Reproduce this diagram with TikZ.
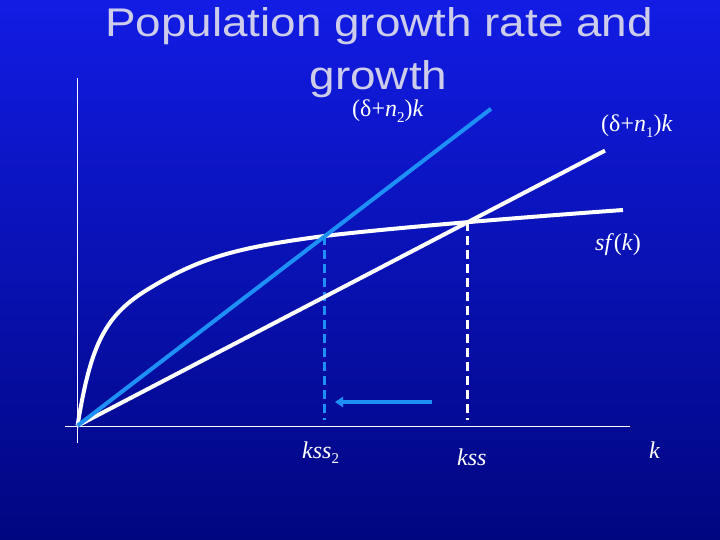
\documentclass[tikz,border=0pt]{standalone}
\usepackage{fontspec}
\setmainfont{Liberation Serif}
\newfontfamily\titlefont[FakeStretch=1.146]{Liberation Sans}
\usetikzlibrary{arrows.meta}
\definecolor{bgtop}{RGB}{18,28,228}
\definecolor{bgmid}{RGB}{6,16,200}
\definecolor{bgbot}{RGB}{0,6,128}
\definecolor{lblue}{RGB}{30,144,245}
\definecolor{titlecol}{RGB}{205,205,235}
\newcommand\sbt[1]{\raisebox{-0.22em}{\fontsize{15}{15}\selectfont #1}}
\tikzset{
  titletext/.style={font=\titlefont\fontsize{40}{40}\selectfont, text=titlecol, inner sep=0pt, anchor=base},
  lab/.style={text=white, font=\fontsize{24}{24}\selectfont, inner sep=0pt, anchor=base west},
  axisline/.style={draw=white, line width=1.5pt},
  whitecurve/.style={draw=white, line width=4pt},
  bluecurve/.style={draw=lblue, line width=4pt},
  wdash/.style={draw=white, line width=3.5pt, dash pattern=on 9pt off 5pt},
  bdash/.style={draw=lblue, line width=3.5pt, dash pattern=on 9pt off 5pt},
}
\begin{document}
\begin{tikzpicture}[x=1pt,y=-1pt]
\useasboundingbox (0pt,0pt) rectangle (720pt,-540pt);
\shade[top color=bgtop, middle color=bgmid, bottom color=bgbot] (0pt,0pt) rectangle (720pt,-540pt);

% title
\node[titletext] (t1) at (379,37) {Population growth rate and};
\node[titletext] (t2) at (378.5,90) {growth};

% coordinates
\coordinate (O) at (77.5,425.7);
\coordinate (ytop) at (77.5,78);
\coordinate (ybot) at (77.5,443);
\coordinate (xl) at (65,426.7);
\coordinate (xr) at (630,426.7);
\coordinate (n2end) at (491,108.8);
\coordinate (n1end) at (605,150.6);
\coordinate (P1) at (150,288);
\coordinate (I2) at (324.5,236);
\coordinate (I1) at (467.5,222);
\coordinate (sfend) at (623,210);
\coordinate (I2b) at (324.5,420);
\coordinate (I1b) at (467.5,420);
\coordinate (arS) at (432,402);
\coordinate (arE) at (335,402);

% axes
\draw[axisline] (ytop) -- (ybot);
\draw[axisline] (xl) -- (xr);

% dashed verticals
\draw[bdash] (I2) -- (I2b);
\draw[wdash] (I1) -- (I1b);

% sf(k)
\draw[whitecurve] (O) .. controls (91.1,342.2) and (105.6,314.6) .. (P1)
  .. controls (199.9,258.1) and (234.8,247.7) .. (I2)
  .. controls (400,227) and (540,216) .. (sfend);

% lines
\draw[whitecurve] (O) -- (n1end);
\draw[bluecurve] (O) -- (n2end);

% arrow
\draw[draw=lblue, line width=4pt, -{Triangle[length=8pt,width=10pt]}] (arS) -- (arE);

% labels
\node[lab] (ln2) at (352,117) {(δ+\textit{n}\sbt{2})\textit{k}};
\node[lab] (ln1) at (601,132) {(δ+\textit{n}\sbt{1})\textit{k}};
\node[lab] (lsf) at (595,251) {\textit{sf}(\textit{k})};
\node[lab] (lk2) at (302,458) {\textit{kss}\sbt{2}};
\node[lab] (lk1) at (457,465) {\textit{kss}};
\node[lab] (lk) at (649,458) {\textit{k}};
\end{tikzpicture}
\end{document}
